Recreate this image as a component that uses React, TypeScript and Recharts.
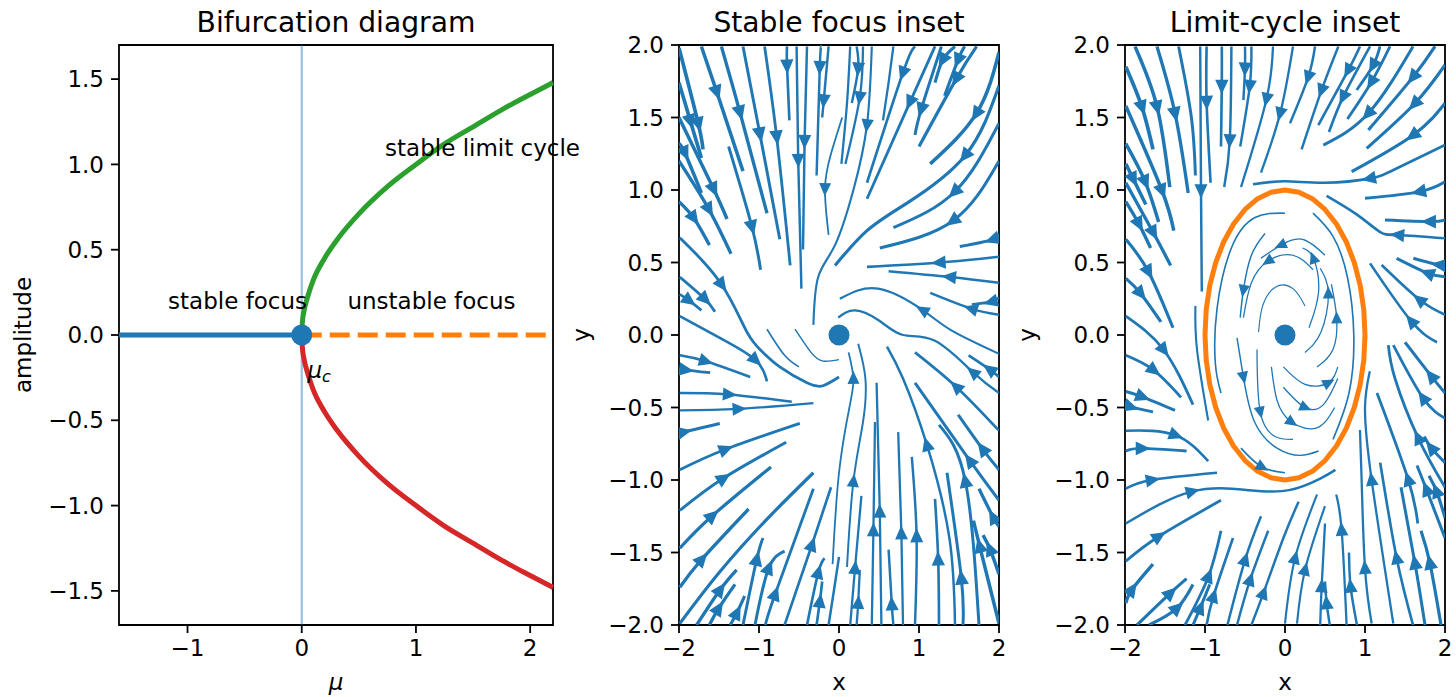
import React from 'react';
import {
  ComposedChart,
  Line,
  Scatter,
  XAxis,
  YAxis,
  ReferenceLine,
  ReferenceArea,
} from 'recharts';

type Pt = [number, number];
// a: index of the point that carries the arrow head (0 = no head), s: relative flow speed
interface Stream {
  a: number;
  s: number;
  p: Pt[];
}

const FONT = "'DejaVu Sans', 'Liberation Sans', sans-serif";
const BLUE = '#1f77b4';
const ORANGE = '#ff7f0e';
const GREEN = '#2ca02c';
const RED = '#d62728';

// ---------------- Bifurcation diagram ----------------
const focusBranch = [
  { x: -1.6, y: 0 },
  { x: 0, y: 0 },
];
const unstableBranch = [
  { x: 0, y: 0 },
  { x: 2.2, y: 0 },
];
const cycleUpper = [
  { x: 0, y: 0 },
  { x: 0.005, y: 0.07 },
  { x: 0.02, y: 0.14 },
  { x: 0.05, y: 0.22 },
  { x: 0.1, y: 0.32 },
  { x: 0.2, y: 0.45 },
  { x: 0.3, y: 0.55 },
  { x: 0.5, y: 0.71 },
  { x: 0.75, y: 0.87 },
  { x: 1.0, y: 1.0 },
  { x: 1.25, y: 1.12 },
  { x: 1.5, y: 1.22 },
  { x: 1.75, y: 1.32 },
  { x: 2.0, y: 1.41 },
  { x: 2.2, y: 1.48 },
];
const cycleLower = [
  { x: 0, y: 0 },
  { x: 0.005, y: -0.07 },
  { x: 0.02, y: -0.14 },
  { x: 0.05, y: -0.22 },
  { x: 0.1, y: -0.32 },
  { x: 0.2, y: -0.45 },
  { x: 0.3, y: -0.55 },
  { x: 0.5, y: -0.71 },
  { x: 0.75, y: -0.87 },
  { x: 1.0, y: -1.0 },
  { x: 1.25, y: -1.12 },
  { x: 1.5, y: -1.22 },
  { x: 1.75, y: -1.32 },
  { x: 2.0, y: -1.41 },
  { x: 2.2, y: -1.48 },
];
const regimeLabels = [
  { x: -1.17, y: 0.15, text: 'stable focus' },
  { x: 0.4, y: 0.15, text: 'unstable focus' },
  { x: 0.73, y: 1.05, text: 'stable limit cycle' },
];
const criticalPoint = [{ x: 0, y: 0 }];
const criticalLabel = [{ x: 0.05, y: -0.25 }];
const muTicks = [-1, 0, 1, 2];
const amplitudeTicks = [-1.5, -1, -0.5, 0, 0.5, 1, 1.5];

// ---------------- Phase portraits ----------------
const phaseXTicks = [-2, -1, 0, 1, 2];
const phaseYTicks = [-2, -1.5, -1, -0.5, 0, 0.5, 1, 1.5, 2];
const equilibrium = [{ x: 0, y: 0 }];

const focusStreams: Stream[] = [
  { a: 1, s: 0.85, p: [[-1.72, 1.99], [-1.53, 1.68], [-1.2, 1.13]] },
  { a: 1, s: 0.8, p: [[-1.47, 1.99], [-1.24, 1.54], [-0.9, 0.84]] },
  { a: 1, s: 0.7, p: [[-1.2, 1.99], [-0.99, 1.39], [-0.74, 0.66]] },
  { a: 1, s: 0.65, p: [[-0.93, 1.99], [-0.78, 1.37], [-0.61, 0.48]] },
  { a: 1, s: 0.6, p: [[-0.65, 1.99], [-0.65, 1.86], [-0.62, 1.48]] },
  { a: 1, s: 0.55, p: [[-0.53, 1.99], [-0.51, 1.21], [-0.47, 0.32]] },
  { a: 1, s: 0.55, p: [[-0.4, 1.99], [-0.43, 1.34], [-0.45, 0.59]] },
  { a: 1, s: 0.55, p: [[-0.22, 1.99], [-0.24, 1.85], [-0.28, 1.1]] },
  { a: 1, s: 0.55, p: [[-0.13, 1.99], [-0.19, 1.62], [-0.21, 1.5]] },
  { a: 2, s: 0.35, p: [[0.04, 1.5], [-0.1, 1.25], [-0.175, 1.01], [-0.13, 0.69]] },
  { a: 0, s: 0.5, p: [[0.14, 1.99], [0.1, 1.6], [0.03, 1.18]] },
  { a: 1, s: 0.55, p: [[0.22, 1.99], [0.24, 1.84], [0.16, 1.6]] },
  { a: 1, s: 0.5, p: [[0.3, 1.99], [0.26, 1.64], [0.08, 1.18]] },
  { a: 1, s: 0.45, p: [[0.41, 1.99], [0.35, 1.45], [0.18, 1.0], [-0.05, 0.62], [-0.26, 0.4], [-0.32, 0.07]] },
  { a: 0, s: 0.5, p: [[0.68, 1.99], [0.62, 1.74], [0.55, 1.48]] },
  { a: 1, s: 0.6, p: [[0.95, 1.99], [0.8, 1.81], [0.35, 1.05]] },
  { a: 1, s: 0.65, p: [[1.2, 1.99], [0.89, 1.61], [0.35, 0.94]] },
  { a: 1, s: 0.7, p: [[1.28, 1.99], [1.03, 1.56], [0.95, 1.38]] },
  { a: 1, s: 0.75, p: [[1.45, 1.99], [1.3, 1.9], [1.2, 1.74]] },
  { a: 1, s: 0.75, p: [[1.57, 1.99], [1.49, 1.9], [1.32, 1.65]] },
  { a: 1, s: 0.75, p: [[1.72, 1.99], [1.47, 1.77], [1.0, 1.3]] },
  { a: 1, s: 0.85, p: [[2.0, 1.95], [1.72, 1.53], [1.14, 1.18]] },
  { a: 1, s: 0.75, p: [[2.0, 1.72], [1.58, 1.24], [0.85, 0.91], [0.35, 0.72], [-0.05, 0.48]] },
  { a: 1, s: 0.7, p: [[2.0, 1.46], [1.45, 0.99], [0.68, 0.74]] },
  { a: 1, s: 0.7, p: [[2.0, 1.2], [1.43, 0.79], [0.51, 0.6]] },
  { a: 1, s: 0.7, p: [[2.0, 0.7], [1.93, 0.66], [1.51, 0.61]] },
  { a: 1, s: 0.6, p: [[2.0, 0.54], [1.26, 0.5], [0.35, 0.47]] },
  { a: 1, s: 0.6, p: [[2.0, 0.36], [1.39, 0.4], [0.62, 0.44]] },
  { a: 1, s: 0.6, p: [[2.0, 0.26], [1.91, 0.23], [1.66, 0.21]] },
  { a: 1, s: 0.55, p: [[2.0, 0.14], [1.66, 0.18], [1.14, 0.29]] },
  { a: 2, s: 0.45, p: [[2.0, -0.13], [1.41, 0.03], [1.05, 0.17], [0.49, 0.32], [0.01, 0.25]] },
  { a: 1, s: 0.65, p: [[2.0, -0.29], [1.89, -0.24], [1.62, -0.14]] },
  { a: 1, s: 0.5, p: [[2.0, -0.4], [1.68, -0.26], [1.2, -0.04], [0.8, 0.0], [0.5, 0.1], [0.2, 0.17], [-0.01, 0.12]] },
  { a: 1, s: 0.6, p: [[2.0, -0.66], [1.47, -0.36], [0.95, -0.12]] },
  { a: 1, s: 0.7, p: [[2.0, -0.93], [1.8, -0.79], [1.49, -0.55]] },
  { a: 1, s: 0.7, p: [[2.0, -1.14], [1.64, -0.87], [0.95, -0.33]] },
  { a: 1, s: 0.7, p: [[1.75, -2.0], [1.58, -1.01], [1.25, -0.62]] },
  { a: 1, s: 0.8, p: [[2.0, -1.32], [1.93, -1.26], [1.75, -1.06]] },
  { a: 1, s: 0.85, p: [[2.0, -1.65], [1.89, -1.48], [1.8, -1.38]] },
  { a: 1, s: 0.85, p: [[2.0, -1.99], [1.76, -1.46], [1.68, -1.28]] },
  { a: 1, s: 0.7, p: [[1.55, -2.0], [1.53, -1.68], [1.35, -0.95]] },
  { a: 2, s: 0.55, p: [[1.45, -2.0], [1.38, -1.4], [1.1, -0.76], [0.8, -0.3], [0.6, -0.08]] },
  { a: 1, s: 0.6, p: [[1.25, -2.0], [1.24, -1.55], [1.2, -1.13]] },
  { a: 1, s: 0.55, p: [[0.95, -2.0], [0.97, -1.39], [0.91, -0.84]] },
  { a: 1, s: 0.5, p: [[0.8, -2.0], [0.78, -1.37], [0.74, -0.67]] },
  { a: 1, s: 0.55, p: [[0.68, -2.0], [0.66, -1.86], [0.62, -1.48]] },
  { a: 1, s: 0.5, p: [[0.53, -2.0], [0.51, -1.22], [0.47, -0.33]] },
  { a: 1, s: 0.5, p: [[0.41, -2.0], [0.43, -1.35], [0.45, -0.6]] },
  { a: 1, s: 0.5, p: [[0.14, -2.0], [0.2, -1.61], [0.28, -1.11]] },
  { a: 1, s: 0.5, p: [[0.22, -2.0], [0.24, -1.85], [0.26, -1.62]] },
  { a: 1, s: 0.4, p: [[0.1, -1.6], [0.18, -1.01], [0.3, -0.6], [0.33, -0.3], [0.24, -0.06]] },
  { a: 3, s: 0.35, p: [[-0.08, -1.58], [0.0, -0.95], [0.13, -0.5], [0.18, -0.3], [0.12, -0.12]] },
  { a: 1, s: 0.8, p: [[-1.78, -2.0], [-1.49, -1.76], [-1.28, -1.62]] },
  { a: 1, s: 0.8, p: [[-1.62, -2.0], [-1.51, -1.89], [-1.3, -1.72]] },
  { a: 1, s: 0.75, p: [[-1.36, -2.0], [-1.28, -1.92], [-1.18, -1.8]] },
  { a: 1, s: 0.7, p: [[-1.2, -2.0], [-1.03, -1.55], [-0.95, -1.4]] },
  { a: 1, s: 0.7, p: [[-1.05, -2.0], [-0.88, -1.61], [-0.68, -1.49]] },
  { a: 1, s: 0.65, p: [[-0.92, -2.0], [-0.8, -1.79], [-0.32, -1.06]] },
  { a: 1, s: 0.6, p: [[-0.68, -2.0], [-0.34, -1.45], [-0.1, -1.05]] },
  { a: 1, s: 0.6, p: [[-0.4, -2.0], [-0.26, -1.64], [-0.18, -1.54]] },
  { a: 1, s: 0.6, p: [[-0.28, -2.0], [-0.24, -1.84], [-0.21, -1.7]] },
  { a: 0, s: 0.55, p: [[-0.13, -2.0], [-0.06, -1.75], [0.0, -1.53]] },
  { a: 1, s: 0.65, p: [[-1.99, 0.67], [-1.47, 0.35], [-1.15, 0.02], [-0.95, -0.12], [-0.74, -0.22], [-0.4, -0.33], [-0.2, -0.35], [0.0, -0.29]] },
  { a: 1, s: 0.65, p: [[-1.99, 0.4], [-1.68, 0.25], [-1.55, 0.16]] },
  { a: 1, s: 0.65, p: [[-1.99, 0.28], [-1.88, 0.24], [-1.72, 0.17]] },
  { a: 2, s: 0.6, p: [[-1.99, 0.13], [-1.49, -0.02], [-1.05, -0.17], [-0.9, -0.32]] },
  { a: 1, s: 0.6, p: [[-1.99, -0.14], [-1.675, -0.18], [-1.11, -0.29]] },
  { a: 1, s: 0.65, p: [[-1.99, -0.23], [-1.925, -0.24], [-1.61, -0.26]] },
  { a: 1, s: 0.55, p: [[-1.99, -0.4], [-1.38, -0.41], [-0.59, -0.46]] },
  { a: 1, s: 0.5, p: [[-1.99, -0.52], [-1.26, -0.51], [-0.32, -0.47]] },
  { a: 1, s: 0.7, p: [[-1.99, -0.67], [-1.95, -0.67], [-1.49, -0.61]] },
  { a: 1, s: 0.65, p: [[-1.99, -0.93], [-1.425, -0.79], [-0.49, -0.61]] },
  { a: 1, s: 0.7, p: [[-1.99, -1.21], [-1.45, -0.99], [-0.66, -0.74]] },
  { a: 1, s: 0.75, p: [[-1.99, -1.47], [-1.59, -1.25], [-0.85, -0.91]] },
  { a: 1, s: 0.8, p: [[-1.99, -1.74], [-1.72, -1.55], [-1.13, -1.2]] },
  { a: 0, s: 0.75, p: [[-1.99, -1.99], [-1.5, -1.64], [-0.9, -1.27], [-0.32, -0.95]] },
  { a: 0, s: 0.3, p: [[-0.9, 0.04], [-0.68, -0.14], [-0.5, -0.22]] },
  { a: 0, s: 0.25, p: [[-0.55, 0.04], [-0.35, -0.12], [-0.2, -0.18], [0.0, -0.17]] },
  { a: 1, s: 0.9, p: [[-2.0, 1.98], [-1.76, 1.46], [-1.7, 1.28]] },
  { a: 1, s: 0.9, p: [[-2.0, 1.74], [-1.86, 1.48], [-1.72, 1.22]] },
  { a: 1, s: 0.85, p: [[-2.0, 1.5], [-1.57, 1.01], [-1.4, 0.8]] },
  { a: 1, s: 0.85, p: [[-2.0, 1.32], [-1.93, 1.26], [-1.72, 0.98]] },
  { a: 1, s: 0.8, p: [[-2.0, 1.2], [-1.63, 0.87], [-1.35, 0.56]] },
  { a: 1, s: 0.8, p: [[-2.0, 0.92], [-1.82, 0.81], [-1.62, 0.62]] },
  { a: 1, s: 0.7, p: [[-1.38, 1.3], [-1.09, 0.75], [-0.98, 0.45]] },
];

const cycleStreams: Stream[] = [
  { a: 1, s: 0.9, p: [[-1.99, 1.85], [-1.79, 1.575], [-1.65, 1.28]] },
  { a: 1, s: 0.85, p: [[-1.875, 1.99], [-1.6, 1.575], [-1.44, 1.02]] },
  { a: 1, s: 0.8, p: [[-1.6, 1.99], [-1.375, 1.53], [-1.21, 0.98]] },
  { a: 0, s: 0.7, p: [[-1.33, 1.99], [-1.17, 1.5], [-1.12, 1.1]] },
  { a: 1, s: 0.55, p: [[-1.06, 1.99], [-1.05, 1.0], [-1.04, 0.3]] },
  { a: 1, s: 0.6, p: [[-0.98, 1.99], [-0.98, 1.61], [-0.93, 1.05]] },
  { a: 1, s: 0.6, p: [[-0.79, 1.99], [-0.79, 1.72], [-0.8, 1.3]] },
  { a: 1, s: 0.55, p: [[-0.67, 1.99], [-0.69, 1.345], [-0.76, 1.02]] },
  { a: 1, s: 0.55, p: [[-0.5, 1.99], [-0.5, 1.84], [-0.52, 1.62]] },
  { a: 1, s: 0.55, p: [[-0.42, 1.99], [-0.44, 1.72], [-0.56, 1.3]] },
  { a: 1, s: 0.5, p: [[-0.15, 1.99], [-0.23, 1.63], [-0.55, 1.02]] },
  { a: 1, s: 0.5, p: [[0.1, 1.99], [-0.06, 1.53], [-0.3, 1.12]] },
  { a: 1, s: 0.85, p: [[-1.99, 1.58], [-1.54, 1.0], [-1.39, 0.72]] },
  { a: 1, s: 0.85, p: [[-1.99, 1.32], [-1.75, 1.06], [-1.58, 0.78]] },
  { a: 1, s: 0.85, p: [[-1.99, 1.18], [-1.9, 1.08], [-1.74, 0.9]] },
  { a: 1, s: 0.8, p: [[-1.99, 1.05], [-1.65, 0.71], [-1.43, 0.48]] },
  { a: 1, s: 0.8, p: [[-1.99, 0.92], [-1.83, 0.77], [-1.68, 0.6]] },
  { a: 1, s: 0.75, p: [[-1.99, 0.66], [-1.71, 0.44], [-1.4, 0.05]] },
  { a: 1, s: 0.75, p: [[-1.99, 0.39], [-1.81, 0.29], [-1.55, 0.09]] },
  { a: 1, s: 0.65, p: [[-1.99, 0.13], [-1.52, -0.1], [-1.15, -0.48]] },
  { a: 1, s: 0.65, p: [[-1.99, -0.14], [-1.646, -0.241], [-1.3, -0.43]] },
  { a: 1, s: 0.7, p: [[-1.99, -0.39], [-1.792, -0.425], [-1.375, -0.52]] },
  { a: 1, s: 0.7, p: [[-1.99, -0.47], [-1.937, -0.494], [-1.65, -0.53]] },
  { a: 1, s: 0.6, p: [[-1.99, -0.66], [-1.375, -0.69], [-0.96, -0.87]] },
  { a: 1, s: 0.65, p: [[-1.99, -0.8], [-1.792, -0.782], [-1.23, -0.8]] },
  { a: 1, s: 0.6, p: [[-1.99, -1.06], [-1.667, -1.0], [-0.85, -0.95]] },
  { a: 1, s: 0.55, p: [[-1.99, -1.3], [-1.167, -1.08], [-0.45, -1.07], [0.05, -1.07], [0.44, -0.99], [0.63, -0.93]] },
  { a: 1, s: 0.65, p: [[-1.99, -1.56], [-1.583, -1.391], [-0.8, -1.14]] },
  { a: 1, s: 0.8, p: [[-1.99, -1.85], [-1.917, -1.759], [-1.65, -1.58]] },
  { a: 1, s: 0.75, p: [[-1.85, -2.0], [-1.437, -1.782], [-1.23, -1.68]] },
  { a: 1, s: 0.75, p: [[-1.7, -2.0], [-1.354, -1.885], [-1.15, -1.72]] },
  { a: 1, s: 0.65, p: [[-1.25, -2.0], [-0.958, -1.667], [-0.8, -1.35]] },
  { a: 1, s: 0.7, p: [[-1.15, -2.0], [-1.062, -1.885], [-0.94, -1.72]] },
  { a: 1, s: 0.6, p: [[-0.98, -2.0], [-0.896, -1.805], [-0.65, -1.4]] },
  { a: 1, s: 0.55, p: [[-0.72, -2.0], [-0.5, -1.552], [-0.3, -1.25]] },
  { a: 1, s: 0.55, p: [[-0.6, -2.0], [-0.437, -1.69], [-0.21, -1.35]] },
  { a: 1, s: 0.55, p: [[-0.42, -2.0], [-0.271, -1.782], [-0.02, -1.4], [0.17, -1.15]] },
  { a: 0, s: 0.45, p: [[-1.12, 0.2], [-1.1, -0.1], [-0.96, -0.59]] },
  { a: 1, s: 0.55, p: [[0.375, 1.99], [0.292, 1.782], [0.0625, 1.46]] },
  { a: 1, s: 0.55, p: [[0.667, 1.99], [0.458, 1.69], [0.208, 1.28]] },
  { a: 1, s: 0.6, p: [[0.937, 1.99], [0.792, 1.828], [0.417, 1.448]] },
  { a: 1, s: 0.6, p: [[1.063, 1.99], [0.729, 1.644], [0.55, 1.4]] },
  { a: 1, s: 0.65, p: [[1.187, 1.99], [1.104, 1.862], [0.896, 1.69]] },
  { a: 1, s: 0.65, p: [[1.312, 1.99], [1.083, 1.747], [0.78, 1.49]] },
  { a: 1, s: 0.7, p: [[1.6, 1.99], [1.042, 1.529], [0.479, 1.31]] },
  { a: 1, s: 0.75, p: [[1.875, 1.99], [1.604, 1.782], [1.042, 1.414]] },
  { a: 1, s: 0.75, p: [[2.0, 1.862], [1.625, 1.598], [1.021, 1.287]] },
  { a: 1, s: 0.75, p: [[2.0, 1.598], [1.604, 1.379], [0.833, 1.126]] },
  { a: 2, s: 0.6, p: [[2.0, 1.31], [1.4, 1.15], [1.063, 1.08], [0.5, 1.05], [0.0, 1.06], [-0.4, 1.04]] },
  { a: 1, s: 0.7, p: [[2.0, 1.057], [1.687, 0.989], [1.0, 0.943]] },
  { a: 1, s: 0.7, p: [[2.0, 0.793], [1.812, 0.782], [1.25, 0.793]] },
  { a: 1, s: 0.6, p: [[2.0, 0.667], [1.417, 0.69], [1.19, 0.71], [0.9, 0.83], [0.52, 0.96]] },
  { a: 1, s: 0.7, p: [[2.0, 0.506], [1.937, 0.483], [1.604, 0.529]] },
  { a: 1, s: 0.7, p: [[2.0, 0.402], [1.792, 0.425], [1.396, 0.529]] },
  { a: 1, s: 0.6, p: [[2.0, 0.14], [1.687, 0.241], [1.208, 0.483]] },
  { a: 1, s: 0.6, p: [[1.9, -0.05], [1.583, 0.092], [1.063, 0.494]] },
  { a: 1, s: 0.7, p: [[2.0, -0.4], [1.833, -0.287], [1.5, -0.05]] },
  { a: 1, s: 0.65, p: [[2.0, -0.575], [1.729, -0.437], [1.354, -0.07]] },
  { a: 1, s: 0.7, p: [[2.0, -0.88], [1.833, -0.782], [1.74, -0.7]] },
  { a: 1, s: 0.65, p: [[2.0, -1.05], [1.667, -0.713], [1.375, -0.3], [1.292, -0.07]] },
  { a: 1, s: 0.75, p: [[2.0, -1.26], [1.896, -1.08], [1.8, -0.97]] },
  { a: 1, s: 0.7, p: [[2.0, -1.4], [1.771, -1.069], [1.65, -0.9]] },
  { a: 1, s: 0.65, p: [[1.66, -1.3], [1.542, -1.0], [1.15, -0.4]] },
  { a: 1, s: 0.75, p: [[1.95, -2.0], [1.812, -1.575], [1.7, -1.35]] },
  { a: 1, s: 0.7, p: [[1.75, -2.0], [1.625, -1.575], [1.45, -1.05]] },
  { a: 1, s: 0.6, p: [[1.6, -2.0], [1.396, -1.54], [1.19, -0.88]] },
  { a: 1, s: 0.5, p: [[1.354, -1.99], [1.083, -1.0], [1.0, -0.5], [1.06, -0.25]] },
  { a: 1, s: 0.5, p: [[1.083, -1.99], [1.0, -1.609], [0.958, -1.0], [0.937, -0.655]] },
  { a: 1, s: 0.5, p: [[0.77, -2.0], [0.708, -1.345], [0.64, -1.1]] },
  { a: 1, s: 0.55, p: [[0.9, -2.0], [0.82, -1.736], [0.8, -1.5]] },
  { a: 1, s: 0.55, p: [[0.56, -2.0], [0.521, -1.851], [0.5, -1.7]] },
  { a: 1, s: 0.5, p: [[0.44, -2.0], [0.458, -1.736], [0.5, -1.3]] },
  { a: 1, s: 0.45, p: [[0.15, -1.99], [0.25, -1.62], [0.5, -1.18]] },
  { a: 1, s: 0.45, p: [[0.0, -1.99], [0.125, -1.54], [0.4, -1.1]] },
  // inside the limit cycle
  { a: 0, s: 0.15, p: [[0.25, 0.2], [0.1, 0.32], [-0.12, 0.33], [-0.28, 0.2], [-0.33, 0.02]] },
  { a: 2, s: 0.2, p: [[0.35, 0.45], [0.1, 0.55], [-0.21, 0.51], [-0.42, 0.36], [-0.52, 0.12]] },
  { a: 2, s: 0.2, p: [[0.5, 0.55], [0.22, 0.66], [-0.05, 0.62], [-0.3, 0.53]] },
  { a: 2, s: 0.25, p: [[-0.25, 0.7], [-0.42, 0.55], [-0.52, 0.31], [-0.56, 0.12]] },
  { a: 0, s: 0.3, p: [[0.0, 0.84], [-0.375, 0.81], [-0.67, 0.6], [-0.85, 0.18], [-0.87, -0.2], [-0.8, -0.4]] },
  { a: 1, s: 0.25, p: [[-0.6, -0.02], [-0.52, -0.29], [-0.38, -0.6], [-0.1, -0.78], [0.19, -0.83], [0.42, -0.8]] },
  { a: 1, s: 0.2, p: [[-0.35, -0.1], [-0.31, -0.53], [-0.125, -0.7], [0.1, -0.72]] },
  { a: 2, s: 0.2, p: [[-0.17, -0.22], [-0.1, -0.45], [0.08, -0.6], [0.4, -0.64], [0.62, -0.5]] },
  { a: 1, s: 0.2, p: [[-0.02, -0.36], [0.25, -0.5], [0.48, -0.48], [0.66, -0.3]] },
  { a: 2, s: 0.2, p: [[-0.02, -0.22], [0.25, -0.34], [0.54, -0.33], [0.66, -0.22]] },
  { a: 2, s: 0.2, p: [[0.4, -0.22], [0.6, -0.1], [0.646, 0.115], [0.58, 0.35]] },
  { a: 2, s: 0.2, p: [[0.25, -0.12], [0.45, 0.02], [0.542, 0.287], [0.44, 0.46]] },
  { a: 2, s: 0.2, p: [[0.3, 0.05], [0.42, 0.3], [0.354, 0.529], [0.22, 0.6]] },
  { a: 0, s: 0.3, p: [[0.6, -0.72], [0.8, -0.4], [0.86, 0.0], [0.78, 0.4], [0.6, 0.68], [0.35, 0.84]] },
  { a: 1, s: 0.3, p: [[-0.55, -0.78], [-0.29, -0.91], [0.0, -0.95]] },
];

// unit-radius limit cycle, sampled every 10 degrees
const limitCycle = [
  { x: 1, y: 0 }, { x: 0.985, y: 0.174 }, { x: 0.94, y: 0.342 }, { x: 0.866, y: 0.5 },
  { x: 0.766, y: 0.643 }, { x: 0.643, y: 0.766 }, { x: 0.5, y: 0.866 }, { x: 0.342, y: 0.94 },
  { x: 0.174, y: 0.985 }, { x: 0, y: 1 }, { x: -0.174, y: 0.985 }, { x: -0.342, y: 0.94 },
  { x: -0.5, y: 0.866 }, { x: -0.643, y: 0.766 }, { x: -0.766, y: 0.643 }, { x: -0.866, y: 0.5 },
  { x: -0.94, y: 0.342 }, { x: -0.985, y: 0.174 }, { x: -1, y: 0 }, { x: -0.985, y: -0.174 },
  { x: -0.94, y: -0.342 }, { x: -0.866, y: -0.5 }, { x: -0.766, y: -0.643 }, { x: -0.643, y: -0.766 },
  { x: -0.5, y: -0.866 }, { x: -0.342, y: -0.94 }, { x: -0.174, y: -0.985 }, { x: 0, y: -1 },
  { x: 0.174, y: -0.985 }, { x: 0.342, y: -0.94 }, { x: 0.5, y: -0.866 }, { x: 0.643, y: -0.766 },
  { x: 0.766, y: -0.643 }, { x: 0.866, y: -0.5 }, { x: 0.94, y: -0.342 }, { x: 0.985, y: -0.174 },
  { x: 1, y: 0 },
];

// ---------------- layout ----------------
const FIG_H = 697;
const PLOT_TOP = 45;
const PLOT_H = 580;
const YAXIS_W = 60;
const XAXIS_H = 40;
const TICK_LEN = 8;
const TICK_FONT = 23;
const TITLE_FONT = 28.2;

const tickStyle = { fill: '#000', fontSize: TICK_FONT, fontFamily: FONT };
const tickLineStyle = { stroke: '#000', strokeWidth: 1.8 };

const signed = (v: number, digits: number) => {
  const s = Math.abs(v).toFixed(digits);
  return v < 0 ? '\u2212' + s : s;
};

const widthFor = (speed: number) => 0.6 + 3.4 * speed;

function arrowMarks(streams: Stream[], kx: number, ky: number) {
  return streams
    .filter((st) => st.a > 0)
    .map((st) => {
      const here = st.p[st.a];
      const prev = st.p[st.a - 1];
      const next = st.p[Math.min(st.a + 1, st.p.length - 1)];
      const dx = (next[0] - prev[0]) * kx;
      const dy = -(next[1] - prev[1]) * ky;
      return { x: here[0], y: here[1], ang: Math.atan2(dy, dx), w: widthFor(st.s) };
    });
}

const renderArrow = (props: any) => {
  const { cx, cy, payload } = props;
  if (cx == null || cy == null) return <g />;
  const c = Math.cos(payload.ang);
  const s = Math.sin(payload.ang);
  const front = 5.5;
  const back = 4.5;
  const half = 4.6;
  const tx = cx + c * front;
  const ty = cy + s * front;
  const bx = cx - c * back;
  const by = cy - s * back;
  const pts = `${tx},${ty} ${bx - s * half},${by + c * half} ${bx + s * half},${by - c * half}`;
  return (
    <polygon
      points={pts}
      fill={BLUE}
      stroke={BLUE}
      strokeWidth={Math.min(payload.w, 3)}
      strokeLinejoin="miter"
    />
  );
};

const renderDot = (props: any) => {
  const { cx, cy } = props;
  if (cx == null || cy == null) return <g />;
  return <circle cx={cx} cy={cy} r={10.5} fill={BLUE} />;
};

const renderRegimeLabel = (props: any) => {
  const { cx, cy, payload } = props;
  return (
    <text x={cx} y={cy} fontSize={TICK_FONT} fontFamily={FONT} fill="#000">
      {payload.text}
    </text>
  );
};

const renderCriticalLabel = (props: any) => {
  const { cx, cy } = props;
  return (
    <text x={cx} y={cy} fontFamily={FONT} fill="#000" fontSize={TICK_FONT}>
      <tspan fontStyle="italic">μ</tspan>
      <tspan fontStyle="italic" fontSize={16} dy={4}>
        c
      </tspan>
    </text>
  );
};

function PanelText({
  width,
  plotLeft,
  plotW,
  title,
  xLabel,
  yLabel,
  yLabelX,
  italicX,
}: {
  width: number;
  plotLeft: number;
  plotW: number;
  title: string;
  xLabel: string;
  yLabel: string;
  yLabelX: number;
  italicX?: boolean;
}) {
  const cx = plotLeft + plotW / 2;
  return (
    <svg
      width={width}
      height={FIG_H}
      style={{ position: 'absolute', left: 0, top: 0, pointerEvents: 'none', overflow: 'visible' }}
    >
      <text x={cx} y={31.5} textAnchor="middle" fontSize={TITLE_FONT} fontFamily={FONT} fill="#000">
        {title}
      </text>
      <text
        x={cx}
        y={690}
        textAnchor="middle"
        fontSize={TICK_FONT}
        fontFamily={FONT}
        fontStyle={italicX ? 'italic' : 'normal'}
        fill="#000"
      >
        {xLabel}
      </text>
      <text
        transform={`translate(${yLabelX},${PLOT_TOP + PLOT_H / 2}) rotate(-90)`}
        textAnchor="middle"
        fontSize={TICK_FONT}
        fontFamily={FONT}
        fill="#000"
      >
        {yLabel}
      </text>
    </svg>
  );
}

function BifurcationPanel() {
  const width = 600;
  const plotLeft = 119;
  const plotW = 434;
  return (
    <div style={{ position: 'absolute', left: 0, top: 0, width, height: FIG_H }}>
      <ComposedChart
        width={width}
        height={FIG_H}
        margin={{
          top: PLOT_TOP,
          right: width - plotLeft - plotW,
          bottom: FIG_H - PLOT_TOP - PLOT_H - XAXIS_H,
          left: plotLeft - YAXIS_W,
        }}
      >
        <XAxis
          type="number"
          dataKey="x"
          domain={[-1.6, 2.2]}
          ticks={muTicks}
          interval={0}
          height={XAXIS_H}
          axisLine={false}
          tickLine={tickLineStyle}
          tickSize={TICK_LEN}
          tickMargin={7}
          tick={tickStyle}
          tickFormatter={(v: number) => signed(v, 0)}
        />
        <YAxis
          type="number"
          dataKey="y"
          domain={[-1.7, 1.7]}
          ticks={amplitudeTicks}
          interval={0}
          width={YAXIS_W}
          axisLine={false}
          tickLine={tickLineStyle}
          tickSize={TICK_LEN}
          tickMargin={7}
          tick={tickStyle}
          tickFormatter={(v: number) => signed(v, 1)}
        />
        <ReferenceLine x={0} stroke={BLUE} strokeOpacity={0.45} strokeWidth={2.2} />
        <Line
          data={focusBranch}
          dataKey="y"
          type="linear"
          stroke={BLUE}
          strokeWidth={5}
          dot={false}
          activeDot={false}
          isAnimationActive={false}
        />
        <Line
          data={unstableBranch}
          dataKey="y"
          type="linear"
          stroke={ORANGE}
          strokeWidth={5}
          strokeDasharray="20 8"
          dot={false}
          activeDot={false}
          isAnimationActive={false}
        />
        <Line
          data={cycleUpper}
          dataKey="y"
          type="monotone"
          stroke={GREEN}
          strokeWidth={5}
          dot={false}
          activeDot={false}
          isAnimationActive={false}
        />
        <Line
          data={cycleLower}
          dataKey="y"
          type="monotone"
          stroke={RED}
          strokeWidth={5}
          dot={false}
          activeDot={false}
          isAnimationActive={false}
        />
        <Scatter data={criticalPoint} shape={renderDot} isAnimationActive={false} />
        <Scatter data={regimeLabels} shape={renderRegimeLabel} isAnimationActive={false} />
        <Scatter data={criticalLabel} shape={renderCriticalLabel} isAnimationActive={false} />
        <ReferenceArea
          x1={-1.6}
          x2={2.2}
          y1={-1.7}
          y2={1.7}
          fill="none"
          fillOpacity={0}
          stroke="#000"
          strokeWidth={1.8}
          ifOverflow="visible"
        />
      </ComposedChart>
      <PanelText
        width={width}
        plotLeft={plotLeft}
        plotW={plotW}
        title="Bifurcation diagram"
        xLabel="μ"
        yLabel="amplitude"
        yLabelX={31}
        italicX
      />
    </div>
  );
}

function PhasePanel({
  left,
  width,
  title,
  streams,
  withCycle,
}: {
  left: number;
  width: number;
  title: string;
  streams: Stream[];
  withCycle: boolean;
}) {
  const plotLeft = 119;
  const plotW = 320;
  const kx = plotW / 4;
  const ky = PLOT_H / 4;
  const arrows = arrowMarks(streams, kx, ky);
  return (
    <div style={{ position: 'absolute', left, top: 0, width, height: FIG_H }}>
      <ComposedChart
        width={width}
        height={FIG_H}
        margin={{
          top: PLOT_TOP,
          right: width - plotLeft - plotW,
          bottom: FIG_H - PLOT_TOP - PLOT_H - XAXIS_H,
          left: plotLeft - YAXIS_W,
        }}
      >
        <XAxis
          type="number"
          dataKey="x"
          domain={[-2, 2]}
          ticks={phaseXTicks}
          interval={0}
          allowDataOverflow
          height={XAXIS_H}
          axisLine={false}
          tickLine={tickLineStyle}
          tickSize={TICK_LEN}
          tickMargin={7}
          tick={tickStyle}
          tickFormatter={(v: number) => signed(v, 0)}
        />
        <YAxis
          type="number"
          dataKey="y"
          domain={[-2, 2]}
          ticks={phaseYTicks}
          interval={0}
          allowDataOverflow
          width={YAXIS_W}
          axisLine={false}
          tickLine={tickLineStyle}
          tickSize={TICK_LEN}
          tickMargin={7}
          tick={tickStyle}
          tickFormatter={(v: number) => signed(v, 1)}
        />
        {streams.map((st, i) => (
          <Line
            key={`stream-${i}`}
            data={st.p.map(([x, y]) => ({ x, y }))}
            dataKey="y"
            type="natural"
            stroke={BLUE}
            strokeWidth={widthFor(st.s)}
            dot={false}
            activeDot={false}
            isAnimationActive={false}
          />
        ))}
        <Scatter data={arrows} shape={renderArrow} isAnimationActive={false} />
        {withCycle && (
          <Line
            data={limitCycle}
            dataKey="y"
            type="linear"
            stroke={ORANGE}
            strokeWidth={5}
            strokeLinejoin="round"
            dot={false}
            activeDot={false}
            isAnimationActive={false}
          />
        )}
        <Scatter data={equilibrium} shape={renderDot} isAnimationActive={false} />
        <ReferenceArea
          x1={-2}
          x2={2}
          y1={-2}
          y2={2}
          fill="none"
          fillOpacity={0}
          stroke="#000"
          strokeWidth={1.8}
          ifOverflow="visible"
        />
      </ComposedChart>
      <PanelText
        width={width}
        plotLeft={plotLeft}
        plotW={plotW}
        title={title}
        xLabel="x"
        yLabel="y"
        yLabelX={29}
      />
    </div>
  );
}

export default function App() {
  return (
    <div
      style={{
        position: 'absolute',
        left: 0,
        top: 0,
        width: 1456,
        height: FIG_H,
        background: '#fff',
        overflow: 'hidden',
      }}
    >
      <BifurcationPanel />
      <PhasePanel left={560} width={460} title="Stable focus inset" streams={focusStreams} withCycle={false} />
      <PhasePanel left={1006} width={450} title="Limit-cycle inset" streams={cycleStreams} withCycle />
    </div>
  );
}
